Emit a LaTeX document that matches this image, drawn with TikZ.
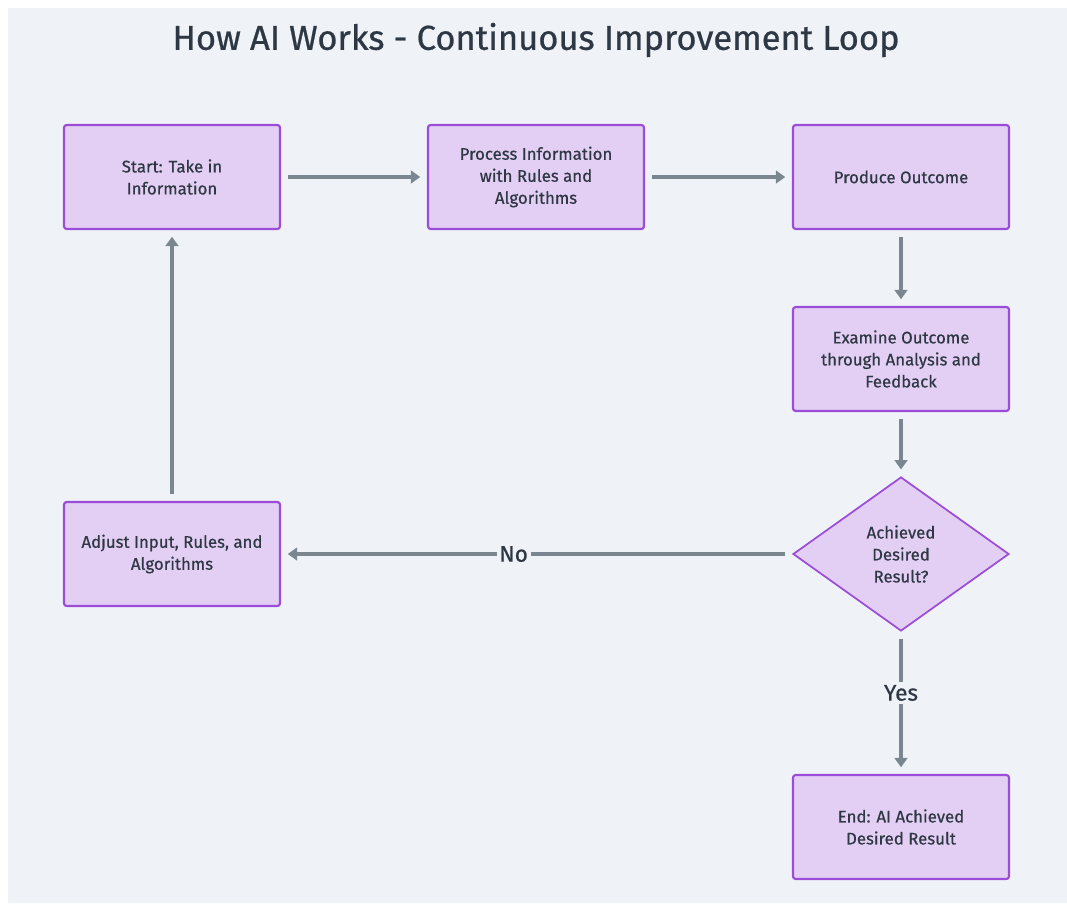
\documentclass[tikz,border=0pt]{standalone}
\usepackage{fontspec}
\setmainfont{Fira Sans}
\newfontfamily\labelfont{Fira Sans}[FakeBold=0.5]
\newfontfamily\headfont{Fira Sans}[FakeBold=0.7]
\usetikzlibrary{shapes.geometric,arrows.meta}
\definecolor{panel}{HTML}{EFF3F7}
\definecolor{boxfill}{HTML}{E3CFF3}
\definecolor{boxline}{HTML}{9B4CD9}
\definecolor{flow}{HTML}{7A8790}
\definecolor{ink}{HTML}{2E3744}
\tikzset{
  stepbox/.style={draw=boxline, fill=boxfill, line width=1.6pt, rounded corners=2pt,
    minimum width=162pt, minimum height=78pt, align=center,
    font=\labelfont\fontsize{12.6}{16.5}\selectfont, text=ink, inner sep=0pt},
  decision/.style={diamond, draw=boxline, fill=boxfill, line width=1.3pt, aspect=1.4,
    minimum width=162pt, minimum height=115.5pt, inner sep=0pt, align=center,
    font=\labelfont\fontsize{12.6}{16.5}\selectfont, text=ink},
  flowline/.style={draw=flow, line width=2.4pt, -{Triangle[length=7pt,width=9.5pt]}},
  edgelabel/.style={fill=panel, text=ink, font=\labelfont\fontsize{17}{20}\selectfont, inner sep=2pt}
}
\begin{document}
\begin{tikzpicture}[x=0.75pt,y=-0.75pt]
  % page and panel
  \useasboundingbox (0,0) rectangle (1067,903);
  \fill[white] (0,0) rectangle (1067,903);
  \fill[panel] (8,8) rectangle (1067,903);

  % title
  \node[text=ink, font=\headfont\fontsize{25.9}{30}\selectfont] (title) at (536,40) {How AI Works - Continuous Improvement Loop};

  % process steps
  \node[stepbox] (start) at (172,177) {Start: Take in\\Information};
  \node[stepbox] (process) at (536,177) {Process Information\\with Rules and\\Algorithms};
  \node[stepbox] (produce) at (901,177) {Produce Outcome};
  \node[stepbox] (examine) at (901,359) {Examine Outcome\\through Analysis and\\Feedback};
  \node[decision] (check) at (901,554) {Achieved\\Desired\\Result?};
  \node[stepbox] (adjust) at (172,554) {Adjust Input, Rules, and\\Algorithms};
  \node[stepbox] (finish) at (901,827) {End: AI Achieved\\Desired Result};

  % connectors
  \draw[flowline, shorten <=5pt, shorten >=5pt] (start) -- (process);
  \draw[flowline, shorten <=5pt, shorten >=5pt] (process) -- (produce);
  \draw[flowline, shorten <=5pt, shorten >=5pt] (produce) -- (examine);
  \draw[flowline, shorten <=5pt, shorten >=5pt] (examine) -- (check);
  \draw[flowline, shorten <=5pt, shorten >=5pt] (check) -- node[edgelabel, pos=0.545] {No} (adjust);
  \draw[flowline, shorten <=5pt, shorten >=5pt] (check) -- node[edgelabel, pos=0.43] {Yes} (finish);
  \draw[flowline, shorten <=5pt, shorten >=5pt] (adjust) -- (start);
\end{tikzpicture}
\end{document}
